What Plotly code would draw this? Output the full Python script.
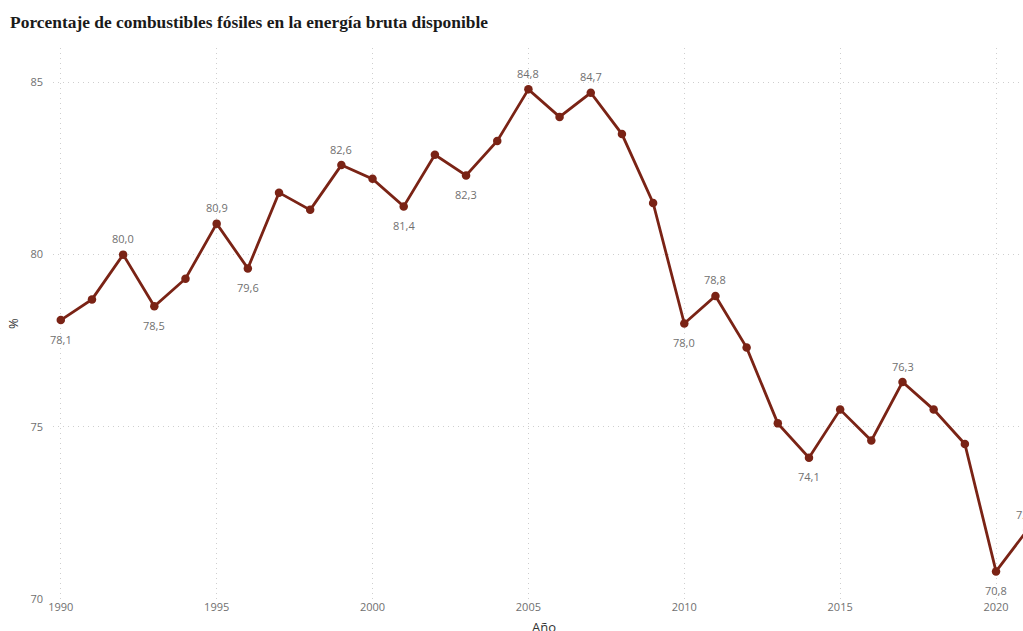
import plotly.graph_objects as go

# Serie anual del porcentaje de combustibles fósiles
years = list(range(1990, 2022))
values = [78.1, 78.7, 80.0, 78.5, 79.3, 80.9, 79.6, 81.8, 81.3, 82.6,
          82.2, 81.4, 82.9, 82.3, 83.3, 84.8, 84.0, 84.7, 83.5, 81.5,
          78.0, 78.8, 77.3, 75.1, 74.1, 75.5, 74.6, 76.3, 75.5, 74.5,
          70.8, 72.0]

# Años con etiqueta de valor y su posición respecto al punto
label_above = [1992, 1995, 1999, 2005, 2007, 2011, 2017, 2021]
label_below = [1990, 1993, 1996, 2001, 2003, 2010, 2014, 2020]

y_ticks = [70, 75, 80, 85]
x_ticks = [1990, 1995, 2000, 2005, 2010, 2015, 2020]

line_color = "#7a2315"
label_font = dict(family="Open Sans, Noto Sans, sans-serif", size=11, color="#707070")
tick_font = dict(family="Open Sans, Noto Sans, sans-serif", size=11, color="#707070")
grid_style = dict(showgrid=True, gridcolor="#cfcfcf", griddash="1px,4px", gridwidth=1)

fig = go.Figure()
fig.add_trace(go.Scatter(
    x=years, y=values,
    mode="lines+markers",
    line=dict(color=line_color, width=2.8),
    marker=dict(color=line_color, size=8.5),
    hovertemplate="%{x}: %{y:.1f}<extra></extra>",
))

# Etiquetas de valor encima o debajo de los puntos seleccionados
for yr, v in zip(years, values):
    if yr in label_above:
        shift = 16
    elif yr in label_below:
        shift = -19
    else:
        continue
    fig.add_annotation(
        x=yr, y=v, text=f"{v:.1f}".replace(".", ","),
        showarrow=False, yshift=shift, yanchor="middle", xanchor="center",
        font=label_font,
    )

fig.update_layout(
    width=1060, height=652,
    margin=dict(l=53, r=25, t=48, b=53),
    paper_bgcolor="white", plot_bgcolor="white",
    showlegend=False,
    separators=",.",
    title=dict(
        text="<b>Porcentaje de combustibles fósiles en la energía bruta disponible</b>",
        x=0.0095, xanchor="left", y=0.966, yanchor="middle",
        font=dict(family="Liberation Serif, Times New Roman, serif", size=17.4, color="#1a1a1a"),
    ),
    xaxis=dict(
        range=[1989.75, 2021.25],
        tickvals=x_ticks,
        tickfont=tick_font,
        zeroline=False, showline=False, ticks="",
        title=dict(text="Año", font=dict(family="Open Sans, Noto Sans, sans-serif", size=13, color="#333333"), standoff=9),
        **grid_style,
    ),
    yaxis=dict(
        range=[70, 86],
        tickvals=y_ticks,
        tickfont=tick_font,
        zeroline=False, showline=False, ticks="",
        ticklabelstandoff=9,
        title=dict(text="%", font=dict(family="Open Sans, Noto Sans, sans-serif", size=13, color="#333333"), standoff=8),
        **grid_style,
    ),
)

fig.write_html("out.html")
